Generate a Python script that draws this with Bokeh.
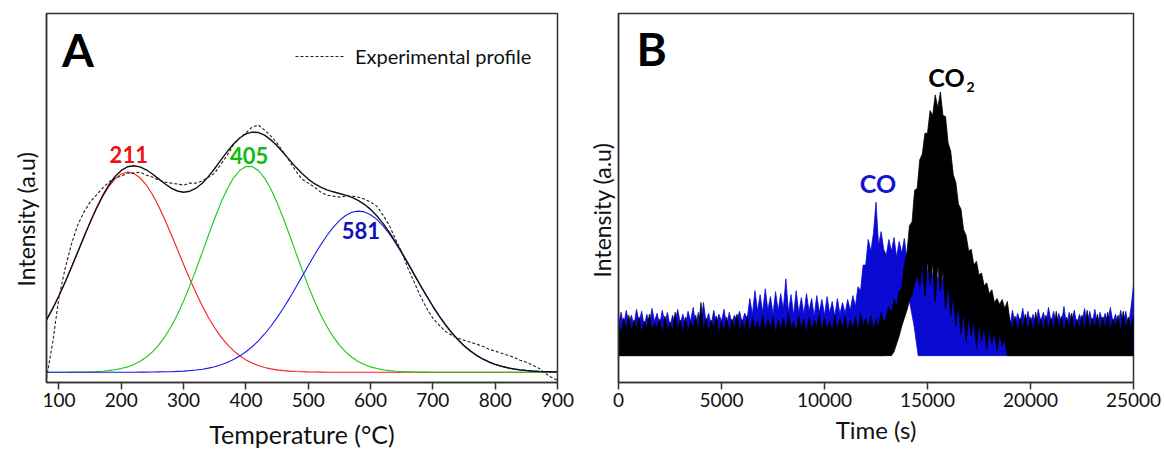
import numpy as np
from bokeh.plotting import figure
from bokeh.layouts import row
from bokeh.models import FixedTicker, Label, Legend, LegendItem, Title
from bokeh.embed import file_html
from bokeh.resources import INLINE

# ---------------- Panel A : TPR profile deconvolution ----------------
temperature = list(range(80, 901, 10))

peak_211 = [52.3, 63.7, 76.4, 90.1, 104.7, 119.8, 134.9, 149.5, 163.2, 175.4,
            185.5, 193.2, 198.1, 200.0, 198.7, 194.4, 187.3, 177.6, 165.8, 152.4,
            137.9, 122.8, 107.7, 93.0, 79.1, 66.2, 54.5, 44.2, 35.3, 27.8,
            21.5, 16.4, 12.3, 9.1, 6.6, 4.7, 3.3, 2.3, 1.6, 1.1,
            0.7, 0.5, 0.3, 0.2, 0.1,
            0, 0, 0, 0, 0, 0, 0, 0, 0, 0, 0, 0, 0, 0, 0, 0, 0, 0, 0,
            0, 0, 0, 0, 0, 0, 0, 0, 0, 0, 0, 0, 0, 0, 0, 0, 0, 0, 0]

peak_405 = [0, 0, 0, 0, 0.1, 0.1, 0.2,
            0.4, 0.6, 1.0, 1.6, 2.4, 3.6, 5.3, 7.6, 10.7, 14.9,
            20.3, 27.1, 35.5, 45.6, 57.5, 71.1, 86.3, 102.6, 119.7, 137.1,
            153.9, 169.5, 183.0, 194.0, 201.6, 205.5, 205.5, 201.6, 194.0, 183.0,
            169.5, 153.9, 137.1, 119.7, 102.6, 86.3, 71.1, 57.5, 45.6, 35.5,
            27.1, 20.3, 14.9, 10.7, 7.6, 5.3, 3.6, 2.4, 1.6, 1.0,
            0.6, 0.4, 0.2, 0.1, 0.1,
            0, 0, 0, 0, 0, 0, 0, 0, 0, 0, 0, 0, 0, 0, 0, 0, 0, 0, 0, 0, 0]

peak_581 = [0, 0, 0, 0, 0, 0, 0, 0, 0, 0, 0, 0, 0, 0, 0,
            0.1, 0.1, 0.2, 0.3, 0.4, 0.5, 0.8, 1.1, 1.6, 2.2,
            3.0, 4.1, 5.5, 7.4, 9.7, 12.6, 16.1, 20.4, 25.4, 31.3,
            38.2, 45.9, 54.5, 63.9, 74.0, 84.6, 95.5, 106.4, 117.1, 127.3,
            136.6, 144.8, 151.5, 156.6, 159.8, 161.0, 160.2, 157.4, 152.7, 146.3,
            138.4, 129.2, 119.2, 108.6, 97.6, 86.7, 76.1, 65.9, 56.3, 47.6,
            39.7, 32.6, 26.5, 21.3, 16.9, 13.2, 10.2, 7.8, 5.9, 4.4,
            3.2, 2.3, 1.7, 1.2, 0.8, 0.6, 0.4, 0.3]

experimental = [-6, 30, 75, 104, 128, 147, 160, 170, 177, 184,
                190, 194, 196, 199, 199, 200, 197, 195, 192, 190,
                189, 188, 187, 189, 189, 191, 195, 199, 208, 217,
                227, 234, 239, 245, 247, 242, 236, 229, 220, 211,
                201, 193, 189, 185, 180, 177, 176, 175, 176, 176,
                175, 173, 170, 166, 157, 147, 133, 120, 104, 90,
                76, 64, 54, 47, 41, 37, 34, 32, 30, 28,
                26, 23, 21, 19, 17, 15, 12, 10, 7, 4,
                -1, -5, -8]

peak_centers = [211, 405, 581]
temp_ticks = [100, 200, 300, 400, 500, 600, 700, 800, 900]

# ---------------- Panel B : CO / CO2 evolution ----------------
time_grid = list(range(0, 25001, 125))

co2_upper = [34, 22, 38, 26, 41, 24, 36, 28,
             39, 23, 35, 27, 42, 25, 33, 29,
             37, 21, 40, 26, 34, 24, 44, 27,
             36, 22, 39, 25, 35, 28, 41, 23,
             54, 26, 38, 24, 36, 27, 40, 22,
             35, 25, 39, 23, 37, 28, 42, 24,
             36, 26, 40, 22, 38, 27, 35, 25,
             41, 24, 37, 28, 39, 23, 36, 26,
             38, 25, 43, 27, 35, 24, 40, 28,
             37, 23, 39, 26, 36, 29, 42, 25,
             38, 27, 35, 24, 41, 26, 37, 28,
             40, 25, 36, 27, 39, 24, 43, 30,
             38, 28, 41, 26, 37, 30, 44, 33,
             40, 50, 42, 57, 50, 66, 68, 92,
             104, 132, 136, 168, 170, 199, 205, 226,
             226, 249, 244, 265, 252, 268, 244, 243,
             216, 208, 184, 176, 154, 149, 128, 122,
             106, 108, 92, 96, 82, 84, 71, 74,
             63, 67, 54, 58, 52, 57, 48, 55,
             36, 26, 40, 24, 38, 27, 42, 25,
             39, 23, 44, 28, 37, 24, 41, 27,
             38, 25, 45, 26, 40, 23, 39, 28,
             43, 25, 37, 27, 41, 24, 46, 26,
             38, 28, 42, 24, 39, 27, 44, 25,
             37, 29, 41, 23, 45, 26, 39, 28,
             40]

co_upper = [32, 44, 30, 46, 33, 41, 31, 47,
            34, 45, 30, 42, 32, 48, 35, 43,
            31, 46, 33, 44, 30, 41, 34, 47,
            33, 42, 31, 45, 35, 49, 30, 44,
            32, 54, 34, 43, 31, 46, 33, 42,
            35, 47, 30, 44, 33, 41, 36, 45,
            34, 43, 38, 58, 42, 66, 45, 62,
            44, 68, 46, 60, 42, 65, 45, 63,
            47, 78, 44, 62, 41, 66, 43, 59,
            42, 63, 45, 58, 40, 61, 44, 57,
            41, 60, 43, 55, 40, 58, 42, 54,
            43, 57, 46, 61, 50, 70, 66, 92,
            92, 118, 106, 124, 156, 112, 126, 108,
            102, 118, 106, 120, 100, 116, 104, 119,
            98, 112, 92, 108, 90, 101, 86, 100,
            84, 106, 80, 92, 76, 88, 74, 90,
            70, 80, 66, 74, 60, 70, 55, 64,
            50, 58, 45, 52, 40, 47, 36, 42,
            33, 38, 30, 36, 28, 34, 26, 44,
            30, 46, 32, 43, 34, 48, 31, 45,
            33, 42, 30, 47, 35, 44, 32, 49,
            34, 45, 31, 43, 33, 50, 30, 44,
            35, 46, 32, 42, 34, 48, 31, 45,
            33, 47, 30, 44, 35, 43, 32, 49,
            34, 42, 31, 46, 33, 45, 30, 48,
            71]

co2_lower_time = [0] + list(range(13250, 18876, 125)) + [25000]
co2_lower = [0,
             0, 4, 12, 20, 30, 38, 46, 56,
             62, 74, 82, 70, 92, 60, 96, 72,
             94, 55, 92, 66, 86, 48, 74, 40,
             62, 30, 52, 22, 45, 14, 40, 20,
             36, 8, 33, 15, 30, 6, 27, 12,
             24, 5, 22, 10, 16, 0,
             0]

co_lower_time = [0, 12900, 13300, 13700, 14100, 14350, 14550, 25000]
co_lower = [0, 0, 30, 50, 58, 30, 0, 0]

time_ticks = [0, 5000, 10000, 15000, 20000, 25000]

FONT = "Lato"
FRAME = "#333333"
INK = "#111111"


def style(p, ticks):
    p.outline_line_color = FRAME
    p.outline_line_width = 1.5
    p.grid.visible = False
    ax = p.xaxis[0]
    ax.ticker = FixedTicker(ticks=ticks)
    ax.axis_line_color = FRAME
    ax.axis_line_width = 1.5
    ax.major_tick_line_color = FRAME
    ax.major_tick_line_width = 1.5
    ax.major_tick_out = 7
    ax.major_tick_in = 0
    ax.minor_tick_line_color = None
    ax.major_label_text_font = FONT
    ax.major_label_text_font_size = "19px"
    ax.major_label_text_color = INK
    ax.major_label_standoff = 3
    ax.axis_label_text_font = FONT
    ax.axis_label_text_font_style = "normal"
    ax.axis_label_text_color = INK
    ay = p.yaxis[0]
    ay.ticker = FixedTicker(ticks=[])
    ay.axis_line_color = FRAME
    ay.axis_line_width = 1.5
    ay.major_tick_out = 0
    ay.major_tick_in = 0
    ay.minor_tick_line_color = None
    ay.major_label_standoff = 0


def side_label(p, text, offset, standoff):
    ttl = Title(text=text, align="left", offset=offset, standoff=standoff,
                text_font=FONT, text_font_size="23px", text_font_style="normal",
                text_color=INK)
    p.add_layout(ttl, "left")


# ---------------- build panel A ----------------
pA = figure(width=579, height=455, x_range=(80, 900), y_range=(-10.3, 358.5),
            output_backend="svg", toolbar_location=None,
            min_border_left=46, min_border_right=22, min_border_top=13,
            min_border_bottom=73, x_axis_label="Temperature (°C)")
style(pA, temp_ticks)
pA.xaxis[0].axis_label_text_font_size = "25px"
pA.xaxis[0].axis_label_standoff = 9
side_label(pA, "Intensity (a.u)", 96, 13)

t = np.array(temperature)
r = np.array(peak_211)
g = np.array(peak_405)
b = np.array(peak_581)
fit = r + g + b

pA.line(t, r, line_color="#ff1a1a", line_width=1.1)
pA.line(t, g, line_color="#19c819", line_width=1.1)
pA.line(t, b, line_color="#1a1aee", line_width=1.1)
pA.line(t, fit, line_color=INK, line_width=1.4)
exp_r = pA.line(t, experimental, line_color="#222222", line_width=1.1,
                line_dash="3 2")

legend = Legend(items=[LegendItem(label="Experimental profile", renderers=[exp_r])])
legend.location = (245, 310)
legend.padding = 4
legend.margin = 0
legend.glyph_width = 50
legend.glyph_height = 20
legend.label_standoff = 10
legend.label_text_font = FONT
legend.label_text_font_size = "20px"
legend.label_text_color = INK
legend.border_line_alpha = 0
legend.background_fill_alpha = 0
pA.add_layout(legend)

pA.add_layout(Label(x=105, y=323, text="A", text_font=FONT, text_font_style="bold",
                    text_font_size="46px", text_color="#000000",
                    text_baseline="alphabetic"))
label_colors = ["#ee1111", "#11bb11", "#1111bb"]
label_heights = [218, 217, 142]
label_shift = [1, 0, 3.5]
for c, col, hgt, dx in zip(peak_centers, label_colors, label_heights, label_shift):
    pA.add_layout(Label(x=c + dx, y=hgt, text=str(c), text_font=FONT,
                        text_font_style="bold", text_font_size="22px",
                        text_color=col, text_align="center",
                        text_baseline="alphabetic"))

# ---------------- build panel B ----------------
pB = figure(width=585, height=455, x_range=(0, 25000), y_range=(-27.3, 347.7),
            output_backend="svg", toolbar_location=None,
            min_border_left=39, min_border_right=31, min_border_top=13,
            min_border_bottom=67, x_axis_label="Time (s)")
style(pB, time_ticks)
pB.xaxis[0].axis_label_text_font_size = "24px"
pB.xaxis[0].axis_label_standoff = 5
side_label(pB, "Intensity (a.u)", 105, 6)

co_xs = time_grid + co_lower_time[::-1]
co_ys = co_upper + co_lower[::-1]
pB.patch(co_xs, co_ys, fill_color="#0a0ad2", line_color="#0a0ad2", line_width=0.8)

co2_xs = time_grid + co2_lower_time[::-1]
co2_ys = co2_upper + co2_lower[::-1]
pB.patch(co2_xs, co2_ys, fill_color="#000000", line_color="#000000", line_width=0.8)

pB.add_layout(Label(x=874, y=312, text="B", text_font=FONT, text_font_style="bold",
                    text_font_size="46px", text_color="#000000",
                    text_baseline="alphabetic"))
pB.add_layout(Label(x=15922, y=283, text="CO", text_font=FONT, text_font_style="bold",
                    text_font_size="25px", text_color="#000000", text_align="center",
                    text_baseline="alphabetic"))
pB.add_layout(Label(x=16893, y=273, text="2", text_font=FONT, text_font_style="bold",
                    text_font_size="14px", text_color="#000000", text_align="left",
                    text_baseline="alphabetic"))
pB.add_layout(Label(x=12597, y=175, text="CO", text_font=FONT, text_font_style="bold",
                    text_font_size="25px", text_color="#1414c8", text_align="center",
                    text_baseline="alphabetic"))

layout = row(pA, pB)
open("out.html", "w").write(file_html(layout, INLINE))
